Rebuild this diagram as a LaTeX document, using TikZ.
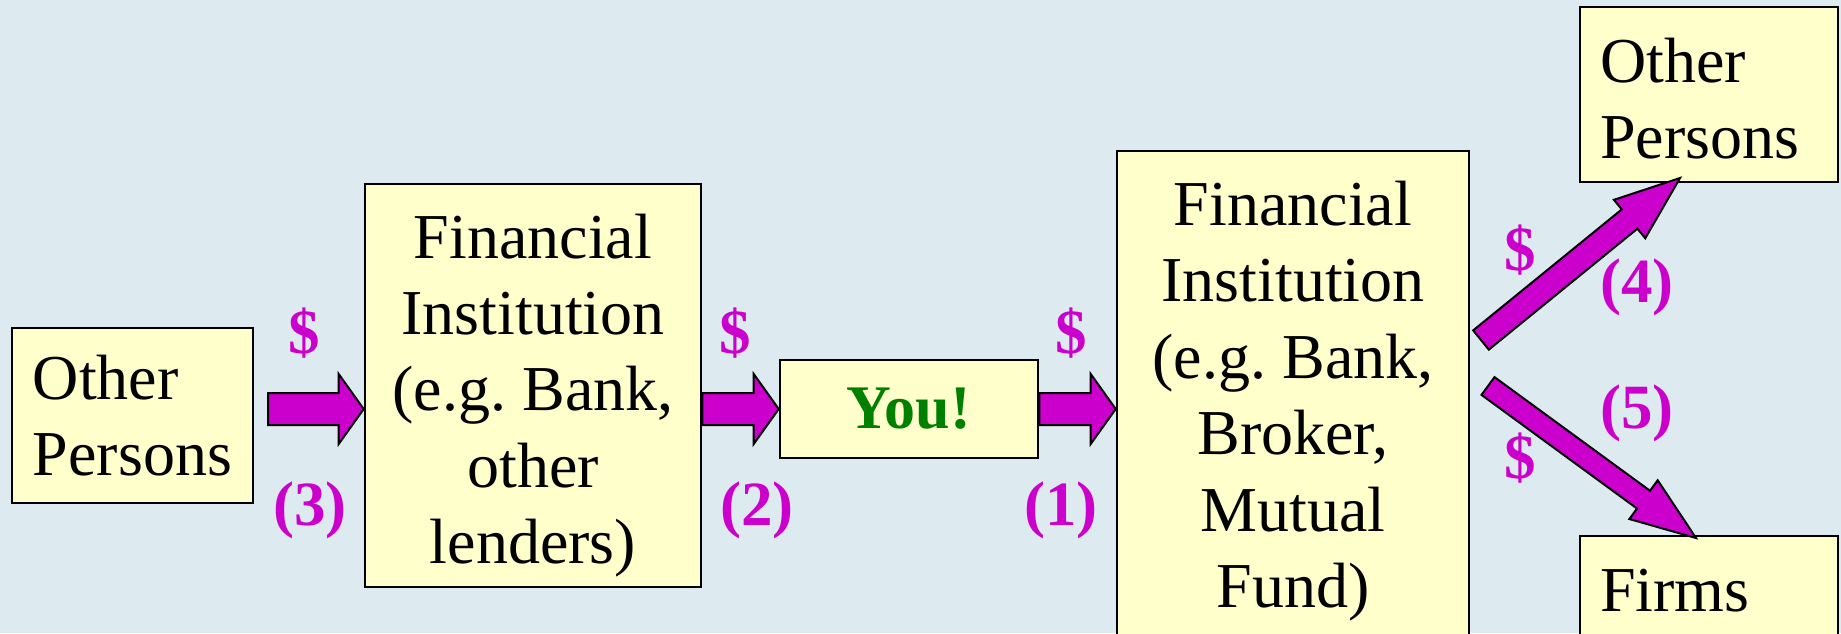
\documentclass[tikz,border=0pt]{standalone}
\usepackage{fontspec}
\setmainfont{Liberation Serif}
\usetikzlibrary{calc}
\definecolor{bg}{RGB}{221,235,240}
\definecolor{boxfill}{RGB}{255,255,204}
\definecolor{mag}{RGB}{204,0,204}
\definecolor{yougreen}{RGB}{0,128,0}
\newcommand\fatarrow[5]{%
  \coordinate (hb) at ($(#2)!#5!(#1)$);
  \draw[fatarr] ($(#1)!#3!90:(#2)$) -- ($(hb)!#3!90:(#2)$) -- ($(hb)!#4!90:(#2)$) -- (#2)
     -- ($(hb)!#4!-90:(#2)$) -- ($(hb)!#3!-90:(#2)$) -- ($(#1)!#3!-90:(#2)$) -- cycle;}
\frenchspacing
\begin{document}
\begin{tikzpicture}[x=0.5pt,y=-0.5pt,
  box/.style={draw=black,line width=1.3pt,fill=boxfill,inner sep=0pt,font=\fontsize{32}{38.2}\selectfont},
  txt/.style={inner sep=0pt,font=\fontsize{32}{38.2}\selectfont},
  fatarr/.style={draw=black,line width=1pt,fill=mag,line join=miter},
  lab/.style={text=mag,font=\fontsize{31.5}{36}\selectfont\bfseries}]
\fill[bg] (0,0) rectangle (1841,633);
\useasboundingbox (0,0) rectangle (1841,633);
\clip (0,0) rectangle (1841,633);
% boxes
\node[box,minimum width=120.5pt,minimum height=87.5pt,align=left] (op1) at (132.5,415.5) {Other\\Persons};
\node[box,minimum width=168pt,minimum height=201.5pt] (fi1) at (533,385.5) {};
\node[txt,align=center] (fi1t) at ($(fi1.center)+(0,10)$) {Financial\\Institution\\(e.g. Bank,\\other\\lenders)};
\node[box,minimum width=129pt,minimum height=49pt,text=yougreen,font=\fontsize{31}{36}\selectfont\bfseries] (you) at (909,409) {You!};
\node[box,minimum width=176pt,minimum height=245pt] (fi2) at (1293,396) {};
\node[txt,align=center] (fi2t) at ($(fi2.center)+(0,5)$) {Financial\\Institution\\(e.g. Bank,\\Broker,\\Mutual\\Fund)};
\node[box,minimum width=129pt,minimum height=87.5pt] (op2) at (1709,94.5) {};
\node[txt,text width=109pt,align=left] (op2t) at ($(op2.center)+(0,4)$) {Other\\Persons};
\node[box,minimum height=55pt,text width=109pt,inner xsep=10pt,align=left] (firms) at (1709,591) {Firms};
% arrows
\coordinate (t3) at (268,409);
\coordinate (h3) at (fi1.west |- t3);
\coordinate (t2) at (fi1.east |- you.west);
\coordinate (h1) at (fi2.west |- you.east);
\coordinate (t4) at (1481,340);
\coordinate (h4) at (1680,178);
\coordinate (t5) at (1488,386);
\coordinate (h5) at (1696,538);
\fatarrow{t3}{h3}{8pt}{17.5pt}{12.5pt}
\fatarrow{t2}{you.west}{8pt}{17.5pt}{12.5pt}
\fatarrow{you.east}{h1}{8pt}{17.5pt}{12.5pt}
\fatarrow{t4}{h4}{6.2pt}{12.4pt}{32.5pt}
\fatarrow{t5}{h5}{5.5pt}{12pt}{32.5pt}
% labels
\node[lab] (d3) at (304,333) {\$};
\node[lab] (n3) at (310,510) {(3)};
\node[lab] (d2) at (735,333) {\$};
\node[lab] (n2) at (757,510) {(2)};
\node[lab] (d1) at (1071,333) {\$};
\node[lab] (n1) at (1061,510) {(1)};
\node[lab] (d4) at (1520,250) {\$};
\node[lab] (n4) at (1637,287) {(4)};
\node[lab] (n5) at (1637,413) {(5)};
\node[lab] (d5) at (1520,458) {\$};
\end{tikzpicture}
\end{document}
